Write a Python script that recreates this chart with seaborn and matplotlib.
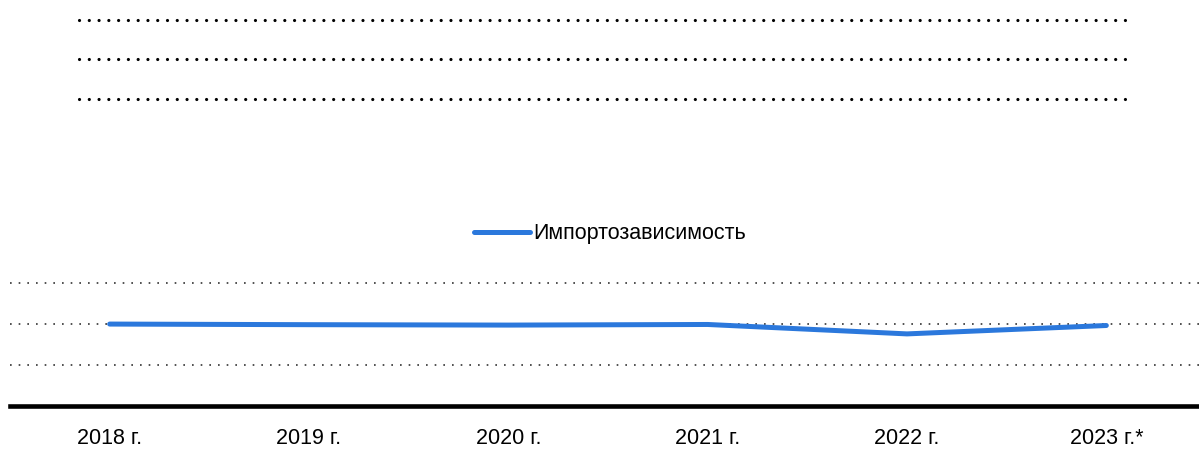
import matplotlib
matplotlib.use("Agg")
import pandas as pd
import seaborn as sns
from matplotlib import pyplot as plt
from matplotlib.lines import Line2D

years = ["2018 г.", "2019 г.", "2020 г.", "2021 г.", "2022 г.", "2023 г.*"]
import_dependency = [40.0, 39.7, 39.5, 39.8, 35.2, 39.3]
series_name = "Импортозависимость"

df = pd.DataFrame({"year": years, "value": import_dependency, "series": series_name})

sns.set_theme(style="white")
plt.rcParams["font.family"] = ["Liberation Sans Narrow", "Liberation Sans", "DejaVu Sans"]

fig = plt.figure(figsize=(11.99, 4.5), dpi=100)
W, H = 1199, 450
ax = fig.add_axes([10 / W, 44 / H, 1196 / W, 127 / H])

sns.lineplot(
    ax=ax,
    data=df,
    x="year",
    y="value",
    hue="series",
    palette=["#2b78dc"],
    linewidth=3.6,
    solid_capstyle="round",
    sort=False,
)

ax.set_xlim(-0.5, 5.5)
ax.set_ylim(0, 62)
ax.set_yticks([20, 40, 60])
ax.set_yticklabels([])
ax.yaxis.grid(True, linestyle=(0, (1, 4.2)), linewidth=1.2, color="#333333")
ax.xaxis.grid(False)
ax.set_xlabel("")
ax.set_ylabel("")
for s in ["top", "left", "right"]:
    ax.spines[s].set_visible(False)
ax.spines["bottom"].set_linewidth(3.3)
ax.spines["bottom"].set_color("black")
ax.tick_params(axis="x", length=0, pad=16, labelsize=15.5, colors="black")
ax.tick_params(axis="y", length=0)

leg = ax.legend(
    loc="center",
    bbox_to_anchor=(610 / W, 1 - 234 / H),
    bbox_transform=fig.transFigure,
    frameon=False,
    fontsize=15.5,
    handlelength=2.6,
    handletextpad=0.15,
)
for t in leg.get_texts():
    t.set_color("black")

# dotted placeholder lines at the top
for y in [20, 59, 99]:
    fig.add_artist(
        Line2D(
            [79 / W, 1127 / W],
            [1 - y / H, 1 - y / H],
            transform=fig.transFigure,
            color="black",
            linewidth=2.3,
            linestyle=(0, (0.01, 3.05)),
            dash_capstyle="round",
        )
    )

fig.savefig("out.png", dpi=100)
